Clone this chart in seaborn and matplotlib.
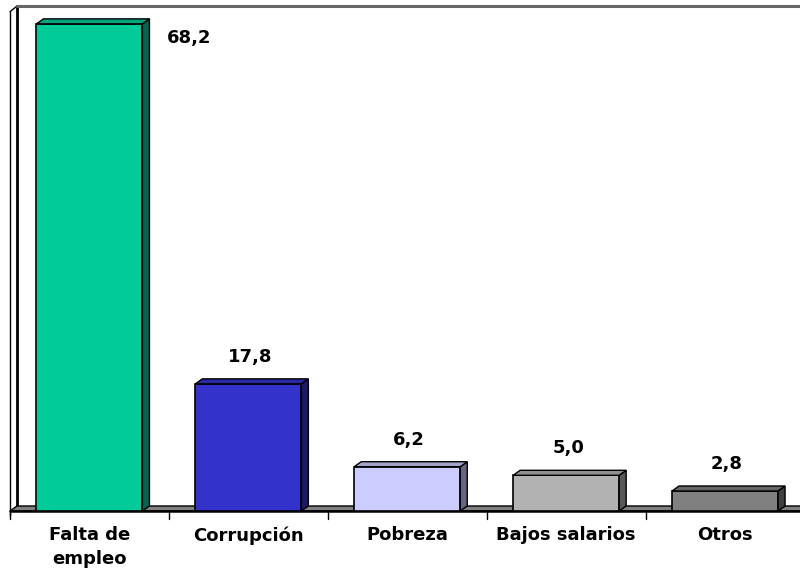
import matplotlib
matplotlib.use("Agg")
import matplotlib.pyplot as plt
import seaborn as sns
import pandas as pd
import numpy as np
from matplotlib.patches import Polygon

sns.set_theme(style="white")
plt.rcParams['font.family'] = ['DejaVu Sans']

categories = ["Falta de\nempleo", "Corrupción", "Pobreza", "Bajos salarios", "Otros"]
values = [68.2, 17.8, 6.2, 5.0, 2.8]
value_labels = ["68,2", "17,8", "6,2", "5,0", "2,8"]
front_colors = ["#00CC99", "#3333CC", "#CCCCFF", "#B2B2B2", "#808080"]
side_colors = ["#006650", "#1A1A66", "#666680", "#595959", "#404040"]
top_colors = ["#00A37A", "#2929A3", "#A3A3CC", "#8F8F8F", "#666666"]

df = pd.DataFrame({"cat": categories, "val": values})

W, H = 800, 574
fig = plt.figure(figsize=(W / 100, H / 100), dpi=100)
ax_left, ax_right, ax_bottom_px, ax_top_px = 10, 800, 511, 11
ax = fig.add_axes([ax_left / W, (H - ax_bottom_px) / H,
                   (ax_right - ax_left) / W, (ax_bottom_px - ax_top_px) / H])

xmin, xmax = -0.5, -0.5 + 790 / 158.9
ymin, ymax = 0, 70
px_x = 790 / (xmax - xmin)
px_y = 500 / (ymax - ymin)
DX = 7 / px_x
DY = 5 / px_y
bw = 106 / px_x

sns.barplot(data=df, x="cat", y="val", hue="cat", palette=front_colors,
            saturation=1, width=bw, edgecolor="black", linewidth=1.2, ax=ax,
            legend=False, zorder=3)

ax.set_xlim(xmin, xmax)
ax.set_ylim(ymin, ymax)
for s in ax.spines.values():
    s.set_visible(False)
ax.set_yticks([])
ax.set_xlabel("")
ax.set_ylabel("")

lw_black = dict(color="black", clip_on=False)
# left wall
ax.add_patch(Polygon([(xmin, 0), (xmin, ymax), (xmin + DX, ymax + DY), (xmin + DX, DY)],
                     closed=True, facecolor="white", edgecolor="none", clip_on=False, zorder=1))
ax.plot([xmin, xmin], [-0.5, ymax - 0.1], lw=1.0, **lw_black, zorder=2)
ax.plot([xmin + DX, xmin + DX], [DY, ymax + DY], lw=2.0, **lw_black, zorder=2)
ax.plot([xmin, xmin + DX], [ymax - 0.1, ymax + DY], lw=1.0, **lw_black, zorder=2)
# back wall top line
ax.plot([xmin + DX, xmax + 0.1], [ymax + DY, ymax + DY], lw=2.2, color="#666666",
        clip_on=False, zorder=2)
# floor
ax.add_patch(Polygon([(xmin, 0), (xmin + DX, DY), (xmax + 0.1, DY), (xmax + 0.1, 0)],
                     closed=True, facecolor="#808080", edgecolor="black", lw=1.0,
                     clip_on=False, zorder=2))
ax.plot([xmin, xmax + 0.1], [0, 0], lw=1.8, color="black", clip_on=False, zorder=2)

# 3D sides and tops of bars
for i, (v, sc, tc) in enumerate(zip(values, side_colors, top_colors)):
    l, r = i - bw / 2, i + bw / 2
    ax.add_patch(Polygon([(r, 0), (r, v), (r + DX, v + DY), (r + DX, DY)], closed=True,
                         facecolor=sc, edgecolor="black", lw=1.0, zorder=4, clip_on=False))
    ax.add_patch(Polygon([(l, v), (r, v), (r + DX, v + DY), (l + DX, v + DY)], closed=True,
                         facecolor=tc, edgecolor="black", lw=1.0, zorder=4, clip_on=False))

# value labels
for i, (v, lab) in enumerate(zip(values, value_labels)):
    if i == 0:
        ax.annotate(lab, xy=(i + bw / 2, v), xytext=(24, -14), textcoords="offset pixels",
                    ha="left", va="center", fontsize=13, fontweight="bold", color="black")
    else:
        ax.annotate(lab, xy=(i, v), xytext=(2, 27), textcoords="offset pixels",
                    ha="center", va="center", fontsize=13, fontweight="bold", color="black")

# ticks
ax.set_xticks(range(len(categories)))
ax.set_xticklabels(categories, fontsize=13, fontweight="bold", color="black",
                   linespacing=1.38, va="top")
ax.tick_params(axis="x", length=0, pad=11)
for t in np.arange(xmin, xmax, 1.0):
    ax.plot([t, t], [0, -8 / px_y], color="black", lw=1.0, clip_on=False, zorder=2)

fig.savefig("out.png", dpi=100)
